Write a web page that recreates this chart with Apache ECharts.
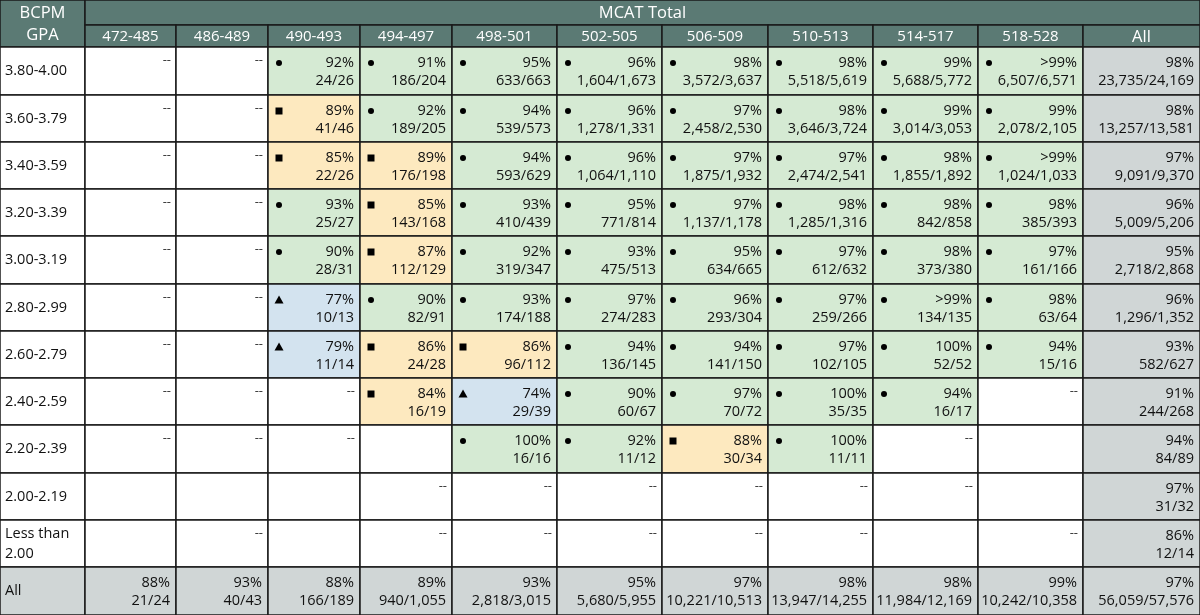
<!DOCTYPE html>
<html><head><meta charset="utf-8">
<script src="https://cdn.jsdelivr.net/npm/echarts@6/dist/echarts.min.js"></script>
<style>html,body{margin:0;padding:0;background:#fff}#c{width:1200px;height:615px}</style>
</head><body><div id="c"></div>
<script>
const mcatCategories = ['472-485','486-489','490-493','494-497','498-501','502-505','506-509','510-513','514-517','518-528','All'];
const gpaCategories = ['3.80-4.00','3.60-3.79','3.40-3.59','3.20-3.39','3.00-3.19','2.80-2.99','2.60-2.79','2.40-2.59','2.20-2.39','2.00-2.19','Less than\n2.00','All'];
// cell codes: c=circle(green) s=square(yellow) t=triangle(blue) a=total(grey); "--" = no data shown; "" = blank
const row_380 = ['--','--','c 92% 24/26','c 91% 186/204','c 95% 633/663','c 96% 1,604/1,673','c 98% 3,572/3,637','c 98% 5,518/5,619','c 99% 5,688/5,772','c >99% 6,507/6,571','a 98% 23,735/24,169'];
const row_360 = ['--','--','s 89% 41/46','c 92% 189/205','c 94% 539/573','c 96% 1,278/1,331','c 97% 2,458/2,530','c 98% 3,646/3,724','c 99% 3,014/3,053','c 99% 2,078/2,105','a 98% 13,257/13,581'];
const row_340 = ['--','--','s 85% 22/26','s 89% 176/198','c 94% 593/629','c 96% 1,064/1,110','c 97% 1,875/1,932','c 97% 2,474/2,541','c 98% 1,855/1,892','c >99% 1,024/1,033','a 97% 9,091/9,370'];
const row_320 = ['--','--','c 93% 25/27','s 85% 143/168','c 93% 410/439','c 95% 771/814','c 97% 1,137/1,178','c 98% 1,285/1,316','c 98% 842/858','c 98% 385/393','a 96% 5,009/5,206'];
const row_300 = ['--','--','c 90% 28/31','s 87% 112/129','c 92% 319/347','c 93% 475/513','c 95% 634/665','c 97% 612/632','c 98% 373/380','c 97% 161/166','a 95% 2,718/2,868'];
const row_280 = ['--','--','t 77% 10/13','c 90% 82/91','c 93% 174/188','c 97% 274/283','c 96% 293/304','c 97% 259/266','c >99% 134/135','c 98% 63/64','a 96% 1,296/1,352'];
const row_260 = ['--','--','t 79% 11/14','s 86% 24/28','s 86% 96/112','c 94% 136/145','c 94% 141/150','c 97% 102/105','c 100% 52/52','c 94% 15/16','a 93% 582/627'];
const row_240 = ['--','--','--','s 84% 16/19','t 74% 29/39','c 90% 60/67','c 97% 70/72','c 100% 35/35','c 94% 16/17','--','a 91% 244/268'];
const row_220 = ['--','--','--','','c 100% 16/16','c 92% 11/12','s 88% 30/34','c 100% 11/11','--','','a 94% 84/89'];
const row_200 = ['','','','--','--','--','--','--','--','','a 97% 31/32'];
const row_lt2 = ['','--','','--','--','--','--','--','','--','a 86% 12/14'];
const row_all = ['a 88% 21/24','a 93% 40/43','a 88% 166/189','a 89% 940/1,055','a 93% 2,818/3,015','a 95% 5,680/5,955','a 97% 10,221/10,513','a 98% 13,947/14,255','a 98% 11,984/12,169','a 99% 10,242/10,358','a 97% 56,059/57,576'];
const bodyRows = [row_380,row_360,row_340,row_320,row_300,row_280,row_260,row_240,row_220,row_200,row_lt2,row_all];

// layout (table geometry, not data)
const colW = [85,91,92,92,92,105,105,106,105,105,105,117];
const rowH = [25,22,48,47,47,47,48,47,47,47,48,47,47,48];
const colE=[0]; colW.forEach(w=>colE.push(colE[colE.length-1]+w));
const rowE=[0]; rowH.forEach(h=>rowE.push(rowE[rowE.length-1]+h));
const fills = {c:'#d5ead3', s:'#fde9bf', t:'#d3e3ef', a:'#d0d6d6'};
const HEAD='#5b7a74', FONT='"Open Sans", "Noto Sans", sans-serif';

const items=[];
items.push([0,1,0,2,'head','BCPM\nGPA']);
items.push([1,12,0,1,'head','MCAT Total']);
mcatCategories.forEach((m,i)=>items.push([i+1,i+2,1,2,'head',m]));
gpaCategories.forEach((g,r)=>{
  items.push([0,1,r+2,r+3,'rowlab',g, r===11]);
  bodyRows[r].forEach((s,c)=>items.push([c+1,c+2,r+2,r+3,'cell',s]));
});

function renderItem(params, api){
  const it = items[params.dataIndex];
  const p0 = api.coord([colE[it[0]], rowE[it[2]]]);
  const p1 = api.coord([colE[it[1]], rowE[it[3]]]);
  const x=p0[0], y=p0[1], w=p1[0]-p0[0], h=p1[1]-p0[1];
  const ch=[];
  let fill='#fff';
  if(it[4]==='head') fill=HEAD;
  else if(it[4]==='rowlab') fill = it[6]?fills.a:'#fff';
  else { const s=it[5]; if(s && s!=='--') fill=fills[s.split(' ')[0]]; }
  ch.push({type:'rect',shape:{x,y,width:w,height:h},style:{fill,stroke:'#1a1a1a',lineWidth:1.5}});
  if(it[4]==='head'){
    const big = it[5]==='All' || it[5]==='MCAT Total' || it[5].indexOf('BCPM')===0;
    ch.push({type:'text',style:{text:it[5],x:x+w/2,y:y+h/2+1,align:'center',verticalAlign:'middle',fill:'#fff',
      font:(big?'500 16.5px ':'500 15px ')+FONT,lineHeight:22}});
  } else if(it[4]==='rowlab'){
    ch.push({type:'text',style:{text:it[5],x:x+5,y:y+h/2,align:'left',verticalAlign:'middle',fill:'#111',font:'14.5px '+FONT,lineHeight:20}});
  } else {
    const s=it[5];
    if(s==='--'){
      ch.push({type:'text',style:{text:'--',x:x+w-5,y:y+13,align:'right',verticalAlign:'middle',fill:'#333',font:'13px '+FONT}});
    } else if(s){
      const [k,pct,frac]=s.split(' ');
      ch.push({type:'text',style:{text:pct,x:x+w-6,y:y+16,align:'right',verticalAlign:'middle',fill:'#111',font:'14.5px '+FONT}});
      ch.push({type:'text',style:{text:frac,x:x+w-6,y:y+34,align:'right',verticalAlign:'middle',fill:'#111',font:'14.5px '+FONT}});
      const mx=x+11, my=y+16;
      if(k==='c') ch.push({type:'circle',shape:{cx:mx,cy:my,r:3},style:{fill:'#000'}});
      if(k==='s') ch.push({type:'rect',shape:{x:mx-3.5,y:my-3.5,width:7,height:7},style:{fill:'#000'}});
      if(k==='t') ch.push({type:'polygon',shape:{points:[[mx,my-4.5],[mx+4.5,my+3.5],[mx-4.5,my+3.5]]},style:{fill:'#000'}});
    }
  }
  return {type:'group',children:ch};
}

const chart = echarts.init(document.getElementById('c'));
chart.setOption({
  animation:false,
  grid:{left:0,right:0,top:0,bottom:0},
  xAxis:{type:'value',min:0,max:1200,show:false},
  yAxis:{type:'value',min:0,max:615,inverse:true,show:false},
  series:[{type:'custom',renderItem,data:items.map((d,i)=>[i]),encode:{x:[],y:[]},clip:false}]
});
</script></body></html>
